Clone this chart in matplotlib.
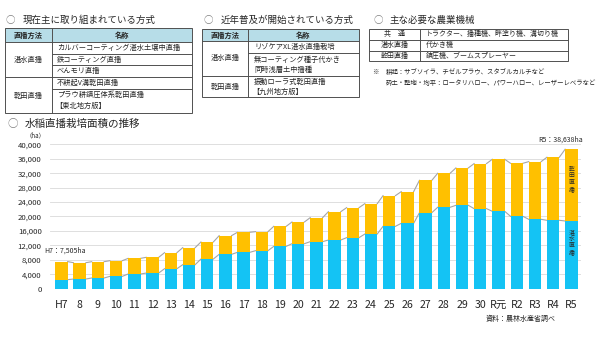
import matplotlib.pyplot as plt
from matplotlib.patches import Rectangle
from matplotlib.ticker import FuncFormatter

plt.rcParams['font.family'] = ['Noto Sans CJK JP', 'DejaVu Sans']

# 水稲直播栽培面積 (ha)
years = ['H7', '8', '9', '10', '11', '12', '13', '14', '15', '16', '17', '18', '19', '20',
         '21', '22', '23', '24', '25', '26', '27', '28', '29', '30', 'R元', 'R2', 'R3', 'R4', 'R5']
wet = [2500, 2680, 2960, 3420, 4070, 4340, 5540, 6650, 8220, 9520, 10070, 10530, 11730, 12470,
       13030, 13490, 14140, 15150, 17280, 18110, 21070, 22550, 23100, 22180, 21440, 20050,
       19220, 18940, 18760]
dry = [5005, 4520, 4520, 4340, 4330, 4350, 4440, 4720, 4720, 5170, 5550, 5270, 5550, 6010,
       6650, 7850, 8310, 8410, 8500, 8780, 8960, 9420, 10350, 12470, 14410, 14690,
       15980, 17470, 19878]
yticks = list(range(0, 40001, 4000))

ORANGE = '#FFC000'
BLUE = '#14C3F4'
HEAD = '#B7DDE8'
LINE = '#505050'
TXT = '#262626'

fig = plt.figure(figsize=(6, 3.37), dpi=100)

# overlay in pixel units for the tables and headings
ov = fig.add_axes([0, 0, 1, 1])
ov.set_xlim(0, 600)
ov.set_ylim(337, 0)
ov.axis('off')


def hline(y, x0, x1):
    ov.plot([x0, x1], [y, y], color=LINE, lw=0.7)


def vline(x, y0, y1):
    ov.plot([x, x], [y0, y1], color=LINE, lw=0.7)


def txt(x, y, s, size=5.2, ha='left', **kw):
    ov.text(x, y, s, fontsize=size, ha=ha, va='center', color=TXT, **kw)


def heading(x, y, s, size=6.8):
    ov.text(x, y, '○', fontsize=size, ha='left', va='center', color='#7f7f7f')
    ov.text(x + 17, y, s, fontsize=size, ha='left', va='center', color=TXT)


# table 1
heading(6, 20, '現在主に取り組まれている方式')
ov.add_patch(Rectangle((5, 28), 187, 14, facecolor=HEAD, edgecolor='none'))
ov.add_patch(Rectangle((5, 28), 187, 85, facecolor='none', edgecolor=LINE, lw=0.7))
vline(52, 28, 113)
hline(42, 5, 192)
hline(53.5, 52, 192)
hline(65, 52, 192)
hline(77, 5, 192)
hline(89, 52, 192)
txt(28.5, 35, '直播方法', ha='center', fontweight='bold')
txt(122, 35, '名称', ha='center', fontweight='bold')
txt(28.5, 60, '湛水直播', ha='center')
txt(28.5, 96, '乾田直播', ha='center')
txt(57, 48, 'カルバーコーティング湛水土壌中直播')
txt(57, 59.5, '鉄コーティング直播')
txt(57, 71, 'べんモリ直播')
txt(57, 83, '不耕起V溝乾田直播')
txt(57, 95, 'プラウ耕鎮圧体系乾田直播')
txt(55, 106, '【東北地方版】')

# table 2
heading(204, 20, '近年普及が開始されている方式')
ov.add_patch(Rectangle((202, 29), 157, 12, facecolor=HEAD, edgecolor='none'))
ov.add_patch(Rectangle((202, 29), 157, 68, facecolor='none', edgecolor=LINE, lw=0.7))
vline(248, 29, 97)
hline(41, 202, 359)
hline(53, 248, 359)
hline(76, 202, 359)
txt(225, 35, '直播方法', ha='center', fontweight='bold')
txt(303.5, 35, '名称', ha='center', fontweight='bold')
txt(225, 58, '湛水直播', ha='center')
txt(225, 87, '乾田直播', ha='center')
txt(254, 47, 'リゾケアXL湛水直播栽培')
txt(254, 59.5, '無コーティング種子代かき')
txt(254, 70, '同時浅層土中播種')
txt(254, 81.5, '振動ローラ式乾田直播')
txt(252, 92, '【九州地方版】')

# table 3
heading(373, 20, '主な必要な農業機械')
ov.add_patch(Rectangle((369, 28.5), 199, 32.5, facecolor='none', edgecolor=LINE, lw=0.7))
vline(420, 28.5, 61)
hline(39.5, 369, 568)
hline(50.5, 369, 568)
txt(394.5, 34, '共　通', size=5, ha='center')
txt(394.5, 45, '湛水直播', size=5, ha='center')
txt(394.5, 56, '乾田直播', size=5, ha='center')
txt(426, 34, 'トラクター、播種機、畔塗り機、溝切り機', size=5)
txt(426, 45, '代かき機', size=5)
txt(426, 56, '鎮圧機、ブームスプレーヤー', size=5)
txt(372, 72, '※', size=4.6)
txt(386, 72, '耕起：サブソイラ、チゼルプラウ、スタブルカルチなど', size=4.6)
txt(386, 83, '砕土・整地・均平：ロータリハロー、パワーハロー、レーザーレベラなど', size=4.6)

# chart
heading(8, 124, '水稲直播栽培面積の推移', size=7.6)
txt(36, 135, '（ha）', size=4.5, ha='center')
txt(486, 319, '資料：農林水産省調べ', size=5)

ax = fig.add_axes([50 / 600, 1 - 288.7 / 337, 531 / 600, 144.4 / 337])
x = list(range(len(years)))
w = 0.68
total = [a + b for a, b in zip(wet, dry)]
ax.bar(x, wet, width=w, color=BLUE, zorder=3)
ax.bar(x, dry, width=w, bottom=wet, color=ORANGE, zorder=3)

# series lines between neighbouring bars
for i in range(len(x) - 1):
    for s in (wet, total):
        ax.plot([x[i] + w / 2, x[i + 1] - w / 2], [s[i], s[i + 1]],
                color='#A6A6A6', lw=0.8, zorder=2)

ax.set_xlim(-0.63, len(x) - 1 + 0.53)
ax.set_ylim(0, 40000)
ax.set_yticks(yticks)
ax.yaxis.set_major_formatter(FuncFormatter(lambda v, p: f'{int(v):,}'))
ax.set_xticks(x)
ax.set_xticklabels(years)
ax.grid(axis='y', color='#D9D9D9', lw=0.6, zorder=0)
for sp in ax.spines.values():
    sp.set_visible(False)
ax.tick_params(axis='y', length=0, labelsize=5.6, labelcolor=TXT, pad=6)
ax.tick_params(axis='x', length=0, labelsize=7.6, labelcolor=TXT, pad=8)
ax.patch.set_alpha(0)

ax.annotate(f'H7：{total[0]:,}ha', xy=(x[0], total[0]), xytext=(-17, 10.5),
            textcoords='offset pixels', fontsize=5, ha='left', va='center', color=TXT)
ax.annotate(f'R5：{total[-1]:,}ha', xy=(x[-1], total[-1]), xytext=(12, 10),
            textcoords='offset pixels', fontsize=5, ha='right', va='center', color=TXT)

ax.text(x[-1], 30200, '\n'.join('乾田直播'), fontsize=4.2, ha='center', va='center',
        color=TXT, linespacing=1.35, zorder=4)
ax.text(x[-1], 12800, '\n'.join('湛水直播'), fontsize=4.2, ha='center', va='center',
        color=TXT, linespacing=1.35, zorder=4)

fig.savefig('out.png', dpi=100)
